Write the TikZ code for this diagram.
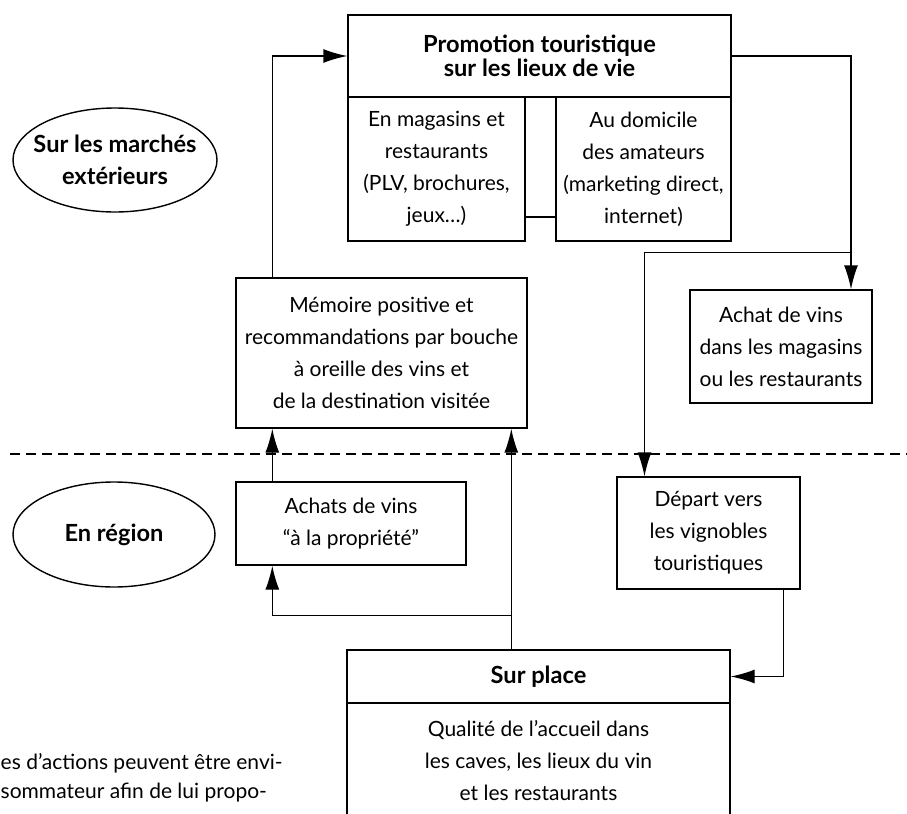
\documentclass[tikz,border=0pt]{standalone}
\usepackage{fontspec}
\setmainfont{Lato}
\usetikzlibrary{arrows.meta,calc,shapes.geometric}

\begin{document}
\begin{tikzpicture}[x=0.5pt,y=-0.5pt,line width=0.7pt,
    >={Latex[length=12pt,width=7pt]},
    every node/.style={font=\fontsize{10.5}{16}\selectfont,align=center},
    box/.style={draw,rectangle,inner sep=0pt},
    zone/.style={draw,ellipse,inner sep=0pt},
    heading/.style={font=\fontsize{11.8}{16}\selectfont\bfseries}]
  \useasboundingbox (0,0) rectangle (907,814);
  \clip (0,0) rectangle (907,814);
  \node[box,minimum width=191.5pt,minimum height=41pt,font=\fontsize{11.8}{11.8}\selectfont\bfseries] (promo) at (539.5,56) {Promotion touristique\\sur les lieux de vie};
  \node[box,minimum width=88.5pt,minimum height=72pt] (promL) at (436.5,169) {En magasins et\\restaurants\\(PLV, brochures,\\jeux\dots)};
  \node[box,minimum width=87.5pt,minimum height=72pt] (promR) at (643.5,169) {Au domicile\\des amateurs\\(marketing direct,\\internet)};
  \node[box,minimum width=145.5pt,minimum height=75pt] (memoire) at (381.5,353) {Mémoire positive et\\recommandations par bouche\\à oreille des vins et\\de la destination visitée};
  \node[box,minimum width=91pt,minimum height=56.5pt] (achatMag) at (781,346.5) {Achat de vins\\dans les magasins\\ou les restaurants};
  \node[box,minimum width=115pt,minimum height=41.5pt] (achatsProp) at (351,523.5) {Achats de vins\\“à la propriété”};
  \node[box,minimum width=91.5pt,minimum height=56pt] (depart) at (708.5,533) {Départ vers\\les vignobles\\touristiques};
  \node[box,heading,minimum width=191.5pt,minimum height=26.5pt] (surTitle) at (538.5,676.5) {Sur place};
  \node[box,minimum width=191.5pt,minimum height=58pt] (surBody) at (538.5,761) {Qualité de l’accueil dans\\les caves, les lieux du vin\\et les restaurants};
  \node[zone,minimum width=102pt,minimum height=52pt] (marches) at (115,160) {};
  \node[heading] (marchesText) at (marches) {Sur les marchés\\extérieurs};
  \node[zone,minimum width=101pt,minimum height=52.5pt] (region) at (114,534.5) {};
  \node[heading] (regionText) at (region) {En région};
  \node[anchor=west,inner sep=0pt] (bodyA) at (0,763) {es d’actions peuvent être envi-};
  \node[anchor=west,inner sep=0pt] (bodyB) at (0,793) {sommateur afin de lui propo-};
  \coordinate (sepL) at (10,454);
  \coordinate (sepR) at (907,454);
  \draw[dash pattern=on 5pt off 3pt] (sepL) -- (sepR);
  \draw ($(promL.east)+(0,48)$) -- ($(promR.west)+(0,48)$);
  \draw[->] ($(memoire.north west)+(37,0)$) |- (promo.west);
  \draw[->] (promo.east) -| ($(achatMag.north)+(70,0)$);
  \draw[->] ($(achatMag.north)+(70,-37)$) -| ($(depart.north)+(-64,0)$);
  \draw[->] ($(achatsProp.north west)+(37,0)$) -- ($(memoire.south west)+(37,0)$);
  \draw[->] ($(surTitle.north west)+(165,0)$) -- ($(memoire.south west)+(276,0)$);
  \draw[->] ($(surTitle.north west)+(165,-34)$) -| ($(achatsProp.south west)+(37,0)$);
  \draw[->] ($(depart.south east)+(-17,0)$) |- (surTitle.east);
\end{tikzpicture}
\end{document}
